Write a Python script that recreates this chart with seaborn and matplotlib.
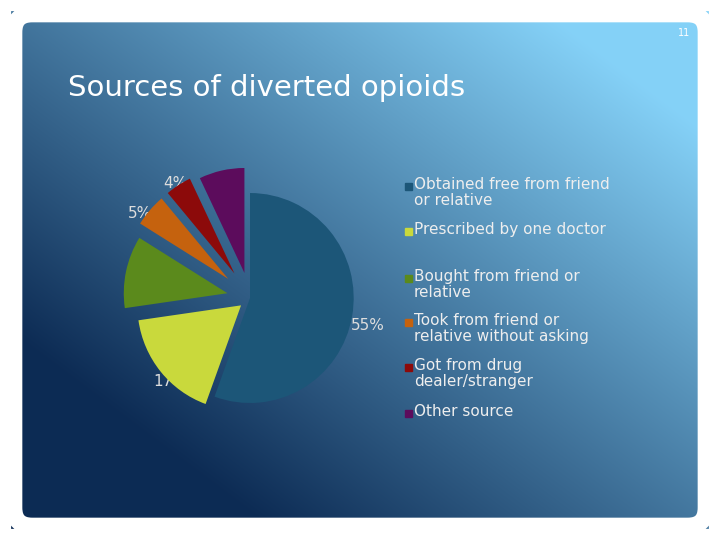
import numpy as np
import matplotlib
matplotlib.use("Agg")
import matplotlib.pyplot as plt
import seaborn as sns
from matplotlib.patches import FancyBboxPatch, Rectangle

sns.set_style("white")
plt.rcParams['font.family'] = ['DejaVu Sans']

categories = ["Obtained free from friend\nor relative", "Prescribed by one doctor",
              "Bought from friend or\nrelative", "Took from friend or\nrelative without asking",
              "Got from drug\ndealer/stranger", "Other source"]
values = [55, 17, 11, 5, 4, 7]
colors = ["#1c5678", "#c9d93c", "#5b8a1c", "#c5620e", "#8c0a0a", "#5c0c5c"]
label_pos = [(368, 325), (170, 382), (145, 290), (140, 213), (175, 183), (230, 195)]
legend_y = [187, 232, 279, 323, 368, 414]

fig = plt.figure(figsize=(7.2, 5.4), dpi=100)
bg = fig.add_axes([0, 0, 1, 1])
bg.set_xlim(0, 720); bg.set_ylim(540, 0); bg.axis("off")
yy, xx = np.mgrid[0:540, 0:720]
t = np.clip((xx / 720) * 0.75 + (1 - yy / 540) * 0.75 - 0.3, 0, 1)
c0 = np.array([0.05, 0.17, 0.33]); c1 = np.array([0.52, 0.82, 0.97])
img = c0[None, None, :] * (1 - t[..., None]) + c1[None, None, :] * t[..., None]
bg.imshow(img, extent=[0, 720, 540, 0], aspect="auto", zorder=0)
frame = FancyBboxPatch((14, 14), 692, 512, boxstyle="round,pad=0,rounding_size=18",
                       fill=False, ec="white", lw=12, zorder=1)
bg.add_patch(frame)
bg.add_patch(Rectangle((0, 0), 720, 540, fill=False, ec="white", lw=16, zorder=1))
bg.text(68, 88, "Sources of diverted opioids", color="white", fontsize=21, va="center", zorder=2)
bg.text(690, 33, "11", color="white", fontsize=7, ha="right", va="center", zorder=2)

for i, (lab, yv) in enumerate(zip(categories, legend_y)):
    bg.add_patch(Rectangle((405, yv - 4), 7, 7, color=colors[i], zorder=3))
    bg.text(414, yv - 10, lab, color="#eeeeee", fontsize=11, va="top",
            linespacing=1.05, zorder=3)

ax = fig.add_axes([250/720 - 0.2, 1 - 298/540 - 0.27, 0.4, 0.54])
ax.pie(values, colors=colors, startangle=90, counterclock=False,
       explode=[0.0, 0.1, 0.2, 0.25, 0.25, 0.22], radius=0.9,
       wedgeprops=dict(linewidth=0))
ax.set_xlim(-1.25, 1.25); ax.set_ylim(-1.25, 1.25)
ax.set_aspect("auto")
for v, (x, y) in zip(values, label_pos):
    bg.text(x, y, f"{v}%", color="#dddddd", fontsize=11, ha="center", va="center", zorder=4)

fig.savefig("out.png", dpi=100)
